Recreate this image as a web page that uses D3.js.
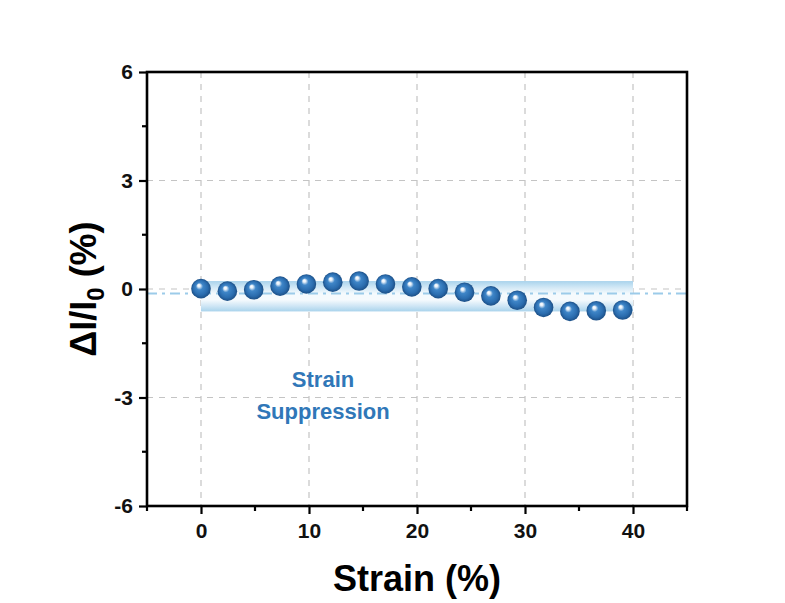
<!DOCTYPE html>
<html>
<head>
<meta charset="utf-8">
<script src="https://cdn.jsdelivr.net/npm/d3@7"></script>
<style>
  body { margin: 0; background: #fff; }
  svg { display: block; font-family: "Liberation Sans", Arial, sans-serif; }
</style>
</head>
<body>
<svg id="chart" width="785" height="603"></svg>
<script>
// Relative current change under increasing strain
const strain = [0, 2.44, 4.88, 7.32, 9.76, 12.2, 14.64, 17.08, 19.52, 21.96, 24.4, 26.84, 29.28, 31.72, 34.16, 36.6, 39.04];
const deltaI = [0.01, -0.06, -0.02, 0.08, 0.14, 0.19, 0.22, 0.14, 0.06, 0.01, -0.09, -0.19, -0.31, -0.51, -0.62, -0.60, -0.58];
const xTicks = [0, 10, 20, 30, 40];
const yTicks = [-6, -3, 0, 3, 6];
const xMinor = [-5, 5, 15, 25, 35, 45];
const yMinor = [-4.5, -1.5, 1.5, 4.5];
const noteLines = ["Strain", "Suppression"];

const svg = d3.select("#chart");
const m = { left: 147, right: 687, top: 72, bottom: 506 };

const x = d3.scaleLinear().domain([-5, 45]).range([m.left, m.right]);
const y = d3.scaleLinear().domain([-6, 6]).range([m.bottom, m.top]);

const defs = svg.append("defs");

// Vertical gradient for the fluctuation band
const band = defs.append("linearGradient").attr("id", "bandGrad")
  .attr("x1", 0).attr("y1", 0).attr("x2", 0).attr("y2", 1);
[["0%", "#a9d3ec"], ["22%", "#d3e9f6"], ["42%", "#f5fafd"], ["62%", "#f5fafd"],
 ["82%", "#cfe6f5"], ["100%", "#a9d3ec"]].forEach(([o, c]) =>
  band.append("stop").attr("offset", o).attr("stop-color", c));

// Glossy sphere gradient for markers
const ball = defs.append("radialGradient").attr("id", "ballGrad")
  .attr("cx", "50%").attr("cy", "50%").attr("r", "50%")
  .attr("fx", "38%").attr("fy", "32%");
[["0%", "#ffffff"], ["14%", "#e8f1fa"], ["36%", "#3f86c8"], ["75%", "#2a6cae"], ["100%", "#1c4f86"]]
  .forEach(([o, c]) => ball.append("stop").attr("offset", o).attr("stop-color", c));

// Grid lines
const grid = svg.append("g").attr("stroke", "#c4c4c4").attr("stroke-width", 1.2)
  .attr("stroke-dasharray", "6,6");
grid.selectAll(".gx").data(xTicks).join("line")
  .attr("x1", d => x(d)).attr("x2", d => x(d))
  .attr("y1", m.top).attr("y2", m.bottom);
grid.selectAll(".gy").data(yTicks.filter(d => d > -6 && d < 6)).join("line")
  .attr("x1", m.left).attr("x2", m.right)
  .attr("y1", d => y(d)).attr("y2", d => y(d));

// Band spanning the observed range
const yMax = d3.max(deltaI), yMin = d3.min(deltaI);
svg.append("rect")
  .attr("x", x(0)).attr("width", x(40) - x(0))
  .attr("y", y(yMax)).attr("height", y(yMin) - y(yMax))
  .attr("fill", "url(#bandGrad)");

// Mean reference line
const mean = d3.mean(deltaI);
svg.append("line")
  .attr("x1", m.left).attr("x2", m.right)
  .attr("y1", y(mean)).attr("y2", y(mean))
  .attr("stroke", "#9ccbe9").attr("stroke-width", 2)
  .attr("stroke-dasharray", "10,5,3,5");

// Markers
svg.append("g").selectAll("circle").data(strain).join("circle")
  .attr("cx", d => x(d)).attr("cy", (d, i) => y(deltaI[i]))
  .attr("r", 9.8).attr("fill", "url(#ballGrad)");

// Axes
const fmt = d => String(d);  // plain hyphen for negatives
const xAxis = svg.append("g").attr("transform", `translate(0,${m.bottom})`)
  .call(d3.axisBottom(x).tickValues(xTicks).tickFormat(fmt).tickSize(8).tickPadding(9));
const yAxis = svg.append("g").attr("transform", `translate(${m.left},0)`)
  .call(d3.axisLeft(y).tickValues(yTicks).tickFormat(fmt).tickSize(8).tickPadding(6));
[xAxis, yAxis].forEach(g => {
  g.select(".domain").remove();
  g.selectAll("line").attr("stroke", "#000").attr("stroke-width", 2.2);
  g.selectAll("text").attr("font-size", 21).attr("font-weight", "bold").attr("fill", "#111")
    .attr("font-family", "'Liberation Sans', Arial, sans-serif");
});
svg.append("g").selectAll("line").data(xMinor).join("line")
  .attr("x1", d => x(d)).attr("x2", d => x(d))
  .attr("y1", m.bottom).attr("y2", m.bottom + 5)
  .attr("stroke", "#000").attr("stroke-width", 2.2);
svg.append("g").selectAll("line").data(yMinor).join("line")
  .attr("x1", m.left - 5).attr("x2", m.left)
  .attr("y1", d => y(d)).attr("y2", d => y(d))
  .attr("stroke", "#000").attr("stroke-width", 2.2);

// Frame
svg.append("rect")
  .attr("x", m.left).attr("y", m.top)
  .attr("width", m.right - m.left).attr("height", m.bottom - m.top)
  .attr("fill", "none").attr("stroke", "#000").attr("stroke-width", 2.6);

// Axis titles
svg.append("text")
  .attr("x", (m.left + m.right) / 2).attr("y", 591)
  .attr("text-anchor", "middle").attr("font-size", 36).attr("font-weight", "bold")
  .text("Strain (%)");

const yt = svg.append("text")
  .attr("transform", `translate(96,${(m.top + m.bottom) / 2}) rotate(-90)`)
  .attr("text-anchor", "middle").attr("font-size", 36).attr("font-weight", "bold");
yt.append("tspan").text("ΔI/I");
yt.append("tspan").attr("font-size", 24).attr("dy", 8).text("0");
yt.append("tspan").attr("dy", -8).text(" (%)");

// Annotation
svg.append("g").selectAll("text").data(noteLines).join("text")
  .attr("x", x(11.3)).attr("y", (d, i) => 387 + i * 32)
  .attr("text-anchor", "middle").attr("font-size", 22).attr("font-weight", "bold")
  .attr("fill", "#3077b8").text(d => d);
</script>
</body>
</html>
